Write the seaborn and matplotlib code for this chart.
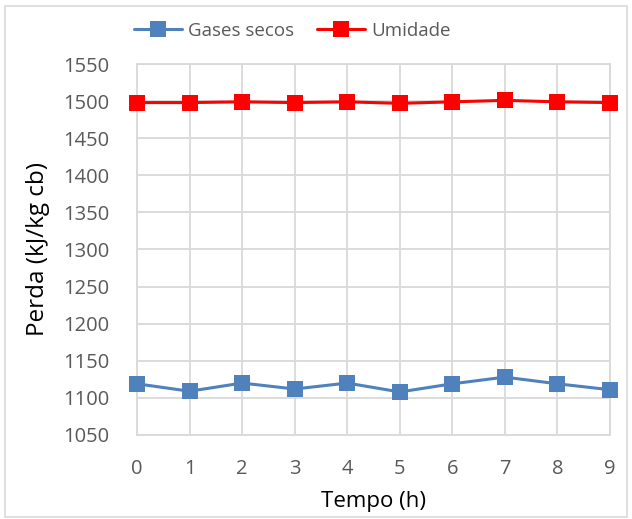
import matplotlib
matplotlib.use("Agg")
import matplotlib.pyplot as plt
import seaborn as sns
import pandas as pd
from matplotlib.patches import Rectangle
from matplotlib.lines import Line2D

hours = [0, 1, 2, 3, 4, 5, 6, 7, 8, 9]
gases_secos = [1119, 1109, 1120, 1112, 1120, 1108, 1119, 1128, 1119, 1111]
umidade = [1498, 1498, 1499, 1498, 1499, 1497, 1499, 1501, 1499, 1498]
series_names = ["Gases secos", "Umidade"]
y_ticks = [1050, 1100, 1150, 1200, 1250, 1300, 1350, 1400, 1450, 1500, 1550]

df = pd.DataFrame({
    "Tempo": hours * 2,
    "Perda": gases_secos + umidade,
    "Serie": [series_names[0]] * len(hours) + [series_names[1]] * len(hours),
})

sns.set_theme(style="white")
plt.rcParams["font.family"] = ["Open Sans", "DejaVu Sans"]

fig = plt.figure(figsize=(6.32, 5.19), dpi=100)
ax = fig.add_axes([137 / 632, 1 - 435 / 519, (610 - 137) / 632, (435 - 64) / 519])

palette = {"Gases secos": "#4F81BD", "Umidade": "#FF0000"}
sns.lineplot(data=df, x="Tempo", y="Perda", hue="Serie", palette=palette,
             marker="s", markersize=11, markeredgewidth=0, linewidth=2.2,
             ax=ax, legend=False)
for ln in ax.lines:
    ln.set_clip_on(False)
    ln.set_zorder(5)

ax.set_xlim(0, 9)
ax.set_ylim(1050, 1550)
ax.set_xticks(hours)
ax.set_yticks(y_ticks)
ax.grid(True, color="#D9D9D9", linewidth=1.3)
ax.set_axisbelow(True)
for s in ax.spines.values():
    s.set_color("#D9D9D9")
    s.set_linewidth(1.3)
ax.tick_params(axis="both", length=0, labelsize=14.5, labelcolor="#595959")
ax.tick_params(axis="y", pad=20)
ax.tick_params(axis="x", pad=17)
ax.set_xlabel("Tempo (h)", fontsize=16, color="black", labelpad=9)
ax.set_ylabel("Perda (kJ/kg cb)", fontsize=17.5, color="black", labelpad=9)

handles = [Line2D([0], [0], color=palette[n], marker="s", markersize=11,
                  markeredgewidth=0, linewidth=2.2) for n in series_names]
fig.legend(handles, series_names, loc="center", bbox_to_anchor=(292 / 632, 1 - 31 / 519),
           ncol=2, frameon=False, fontsize=13.5, handlelength=2.6,
           columnspacing=1.2, handletextpad=0.3, labelcolor="#595959")

fig.add_artist(Rectangle((0.008, 0.004), 0.984, 0.985, transform=fig.transFigure,
                         fill=False, edgecolor="#D9D9D9", linewidth=1.2))

fig.savefig("out.png", dpi=100)
